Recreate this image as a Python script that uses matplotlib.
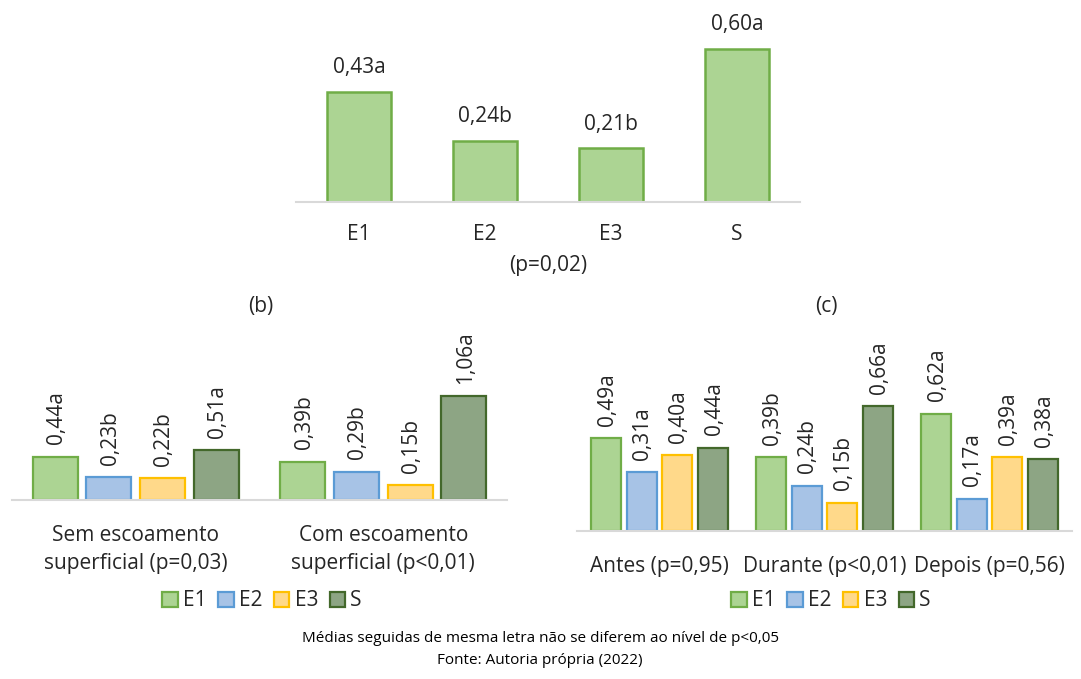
import matplotlib.pyplot as plt
import numpy as np

plt.rcParams["font.family"] = ["Open Sans", "DejaVu Sans"]

# (a) overall means per treatment
cats_a = ["E1", "E2", "E3", "S"]
vals_a = [0.43, 0.24, 0.21, 0.60]
lets_a = ["a", "b", "b", "a"]

# (b) with / without surface runoff
series = ["E1", "E2", "E3", "S"]
groups_b = ["Sem escoamento\nsuperficial (p=0,03)", "Com escoamento\nsuperficial (p<0,01)"]
vals_b = {
    "E1": [0.44, 0.39],
    "E2": [0.23, 0.29],
    "E3": [0.22, 0.15],
    "S": [0.51, 1.06],
}
lets_b = {
    "E1": ["a", "b"],
    "E2": ["b", "b"],
    "E3": ["b", "b"],
    "S": ["a", "a"],
}

# (c) before / during / after
groups_c = ["Antes (p=0,95)", "Durante (p<0,01)", "Depois (p=0,56)"]
vals_c = {
    "E1": [0.49, 0.39, 0.62],
    "E2": [0.31, 0.24, 0.17],
    "E3": [0.40, 0.15, 0.39],
    "S": [0.44, 0.66, 0.38],
}
lets_c = {
    "E1": ["a", "b", "a"],
    "E2": ["a", "b", "a"],
    "E3": ["a", "b", "a"],
    "S": ["a", "a", "a"],
}

fills = {"E1": "#acd493", "E2": "#a7c3e6", "E3": "#ffd98a", "S": "#8da584"}
edges = {"E1": "#70ad47", "E2": "#5b9bd5", "E3": "#ffc000", "S": "#43682b"}
AXIS_GRAY = "#d9d9d9"
TXT = "#262626"
FS = 15

W, H = 1081, 679
fig = plt.figure(figsize=(W / 100, H / 100), dpi=100)


def px_axes(x0, x1, ybase, height, scale):
    ax = fig.add_axes([x0 / W, (H - ybase) / H, (x1 - x0) / W, height / H])
    ax.set_ylim(0, height / scale)
    for s in ["top", "left", "right"]:
        ax.spines[s].set_visible(False)
    ax.spines["bottom"].set_color(AXIS_GRAY)
    ax.spines["bottom"].set_linewidth(1.5)
    ax.set_yticks([])
    ax.tick_params(axis="x", length=0, labelsize=FS, labelcolor=TXT)
    return ax


def fmt(v, letter):
    return f"{v:.2f}".replace(".", ",") + letter


# ---- (a)
ax = px_axes(296, 800, 202, 190, 255)
x = np.arange(len(cats_a))
ax.bar(x, vals_a, width=0.51, color=fills["E1"], edgecolor=edges["E1"], linewidth=1.8)
for xi, v, l in zip(x, vals_a, lets_a):
    ax.annotate(fmt(v, l), (xi, v), xytext=(0, 10), textcoords="offset points",
                ha="center", va="bottom", fontsize=FS, color=TXT)
ax.set_xlim(-0.5, len(cats_a) - 0.5)
ax.set_xticks(x, cats_a)
ax.tick_params(axis="x", pad=16)
fig.text(548 / W, 1 - 266 / H, "(p=0,02)", ha="center", va="center", fontsize=FS, color=TXT)


def grouped(ax, groups, vals, lets):
    xg = np.arange(len(groups))
    for i, s in enumerate(series):
        pos = xg + (i - 1.5) * 0.217
        ax.bar(pos, vals[s], width=0.182, color=fills[s], edgecolor=edges[s],
               linewidth=1.6, label=s)
        for p, v, l in zip(pos, vals[s], lets[s]):
            ax.annotate(fmt(v, l), (p, v), xytext=(1, 9), textcoords="offset points",
                        ha="center", va="bottom", rotation=90, fontsize=FS, color=TXT)
    ax.set_xlim(-0.5, len(groups) - 0.5)
    ax.set_xticks(xg, groups, linespacing=1.45)
    ax.tick_params(axis="x", pad=18)


# ---- (b)
ax_b = px_axes(12, 507, 500, 180, 98)
grouped(ax_b, groups_b, vals_b, lets_b)
fig.text(261 / W, 1 - 307 / H, "(b)", ha="center", va="center", fontsize=FS, color=TXT)

# ---- (c)
ax_c = px_axes(577, 1072, 531, 210, 189)
grouped(ax_c, groups_c, vals_c, lets_c)
fig.text(826 / W, 1 - 307 / H, "(c)", ha="center", va="center", fontsize=FS, color=TXT)

for axx, cx in [(ax_b, 262), (ax_c, 831)]:
    h, lab = axx.get_legend_handles_labels()
    fig.legend(h, lab, loc="center", bbox_to_anchor=(cx / W, 1 - 601 / H), ncol=4,
               frameon=False, fontsize=FS, handlelength=0.75, handleheight=0.75,
               handletextpad=0.25, columnspacing=0.55, labelcolor=TXT)

fig.text(540 / W, 1 - 638 / H, "Médias seguidas de mesma letra não se diferem ao nível de p<0,05",
         ha="center", va="center", fontsize=11, color="black")
fig.text(540 / W, 1 - 661 / H, "Fonte: Autoria própria (2022)",
         ha="center", va="center", fontsize=11, color="black")

fig.savefig("out.png", dpi=100)
